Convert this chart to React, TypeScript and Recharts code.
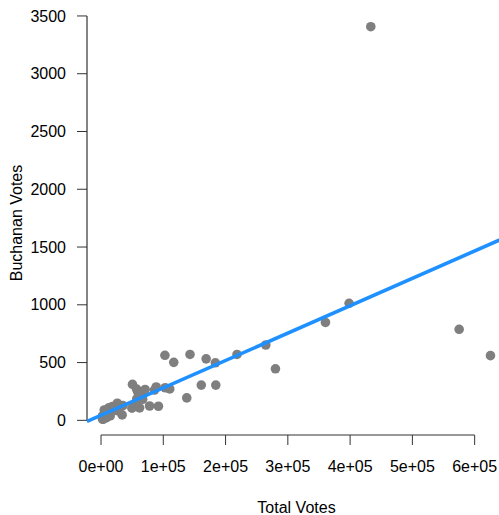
import React from "react";
import {
  ReferenceLine,
  Scatter,
  ScatterChart,
  XAxis,
  YAxis
} from "recharts";

// Florida 2000, one entry per county
const counties = [
  "Alachua", "Baker", "Bay", "Bradford", "Brevard", "Broward", "Calhoun", "Charlotte",
  "Citrus", "Clay", "Collier", "Columbia", "DeSoto", "Dixie", "Duval", "Escambia",
  "Flagler", "Franklin", "Gadsden", "Gilchrist", "Glades", "Gulf", "Hamilton", "Hardee",
  "Hendry", "Hernando", "Highlands", "Hillsborough", "Holmes", "Indian River", "Jackson",
  "Jefferson", "Lafayette", "Lake", "Lee", "Leon", "Levy", "Liberty", "Madison", "Manatee",
  "Marion", "Martin", "Miami-Dade", "Monroe", "Nassau", "Okaloosa", "Okeechobee", "Orange",
  "Osceola", "Palm Beach", "Pasco", "Pinellas", "Polk", "Putnam", "St. Johns", "St. Lucie",
  "Santa Rosa", "Sarasota", "Seminole", "Sumter", "Suwannee", "Taylor", "Union", "Volusia",
  "Wakulla", "Walton", "Washington"
];

const totalVotes = [
  85800, 8150, 58800, 8700, 218400, 575100, 5190, 66900,
  57200, 57400, 92200, 18450, 7800, 4640, 264600, 116800,
  27100, 4640, 14720, 5360, 3360, 6140, 3950, 6240,
  8140, 65300, 35200, 360400, 7400, 49700, 16330,
  5650, 2510, 88600, 184300, 103100, 12700, 2410, 6160, 110400,
  102600, 62000, 625400, 33900, 23800, 70800, 9850, 280100,
  55700, 433200, 142900, 398400, 168800, 26200, 60800, 78000,
  50500, 161000, 137700, 22300, 12450, 6820, 3830, 183600,
  8600, 18300, 8000
];

const buchananVotes = [
  262, 73, 248, 65, 570, 788, 90, 182,
  270, 186, 122, 89, 36, 29, 652, 502,
  83, 33, 38, 29, 9, 71, 24, 30,
  22, 242, 127, 847, 76, 105, 102,
  29, 10, 289, 305, 282, 67, 39, 29, 272,
  563, 108, 560, 47, 90, 267, 43, 446,
  145, 3407, 570, 1013, 532, 148, 229, 124,
  311, 305, 194, 114, 108, 27, 37, 498,
  46, 120, 88
];

const xTicks = [0, 100000, 200000, 300000, 400000, 500000, 600000];
const yTicks = [0, 500, 1000, 1500, 2000, 2500, 3000, 3500];

// least-squares line
const fitIntercept = 44;
const fitSlope = 0.00237;

// R-style 4% padding around the data range
const pad = (vals: number[]): [number, number] => {
  const lo = Math.min(...vals);
  const hi = Math.max(...vals);
  const d = (hi - lo) * 0.04;
  return [lo - d, hi + d];
};
const xDomain = pad(totalVotes);
const yDomain = pad(buchananVotes);

const points = counties.map((name, i) => ({
  county: name,
  total: totalVotes[i],
  buchanan: buchananVotes[i]
}));

const fitLine = xDomain.map((x) => ({ total: x, buchanan: fitIntercept + fitSlope * x }));

const sciFormat = (v: number) => {
  if (v === 0) return "0e+00";
  const exp = Math.floor(Math.log10(Math.abs(v)));
  const mant = Math.round(v / Math.pow(10, exp));
  return `${mant}e+${String(exp).padStart(2, "0")}`;
};

const FONT = "'Liberation Sans', Arial, Helvetica, sans-serif";
const INK = "#000000";

const Dot = (props: any) => (
  <circle cx={props.cx} cy={props.cy} r={4.8} fill="#7f7f7f" />
);

const NoDot = () => <g />;

export default function App() {
  return (
    <div
      style={{
        position: "absolute",
        left: 0,
        top: 0,
        width: 499,
        height: 515,
        overflow: "hidden",
        background: "#ffffff",
        fontFamily: FONT
      }}
    >
      <ScatterChart
        width={506}
        height={515}
        margin={{ top: 11, right: 0, bottom: 0, left: 0 }}
      >
        <XAxis
          type="number"
          dataKey="total"
          domain={xDomain}
          ticks={xTicks}
          tickFormatter={sciFormat}
          allowDataOverflow
          height={80}
          axisLine={false}
          tickLine={{ stroke: "#333333" }}
          tickSize={10}
          tickMargin={16}
          tick={{ fill: INK, fontSize: 16, fontFamily: FONT }}
          label={{
            content: (p: any) => (
              <text
                x={p.viewBox.x + p.viewBox.width / 2}
                y={p.viewBox.y + p.viewBox.height - 2}
                textAnchor="middle"
                fill={INK}
                fontSize={16}
                fontFamily={FONT}
              >
                Total Votes
              </text>
            )
          }}
        />
        <YAxis
          type="number"
          dataKey="buchanan"
          domain={yDomain}
          ticks={yTicks}
          allowDataOverflow
          width={87}
          axisLine={false}
          tickLine={{ stroke: "#333333" }}
          tickSize={10}
          tickMargin={11}
          tick={{ fill: INK, fontSize: 16, fontFamily: FONT }}
          label={{
            content: (p: any) => {
              const cy = p.viewBox.y + p.viewBox.height / 2;
              return (
                <text
                  x={22}
                  y={cy}
                  transform={`rotate(-90, 22, ${cy})`}
                  textAnchor="middle"
                  fill={INK}
                  fontSize={16}
                  fontFamily={FONT}
                >
                  Buchanan Votes
                </text>
              );
            }
          }}
        />
        <ReferenceLine
          segment={[
            { x: xDomain[0], y: yTicks[0] },
            { x: xDomain[0], y: yTicks[yTicks.length - 1] }
          ]}
          stroke="#333333"
          strokeWidth={1.2}
          ifOverflow="visible"
        />
        <ReferenceLine
          segment={[
            { x: xTicks[0], y: yDomain[0] },
            { x: xTicks[xTicks.length - 1], y: yDomain[0] }
          ]}
          stroke="#333333"
          strokeWidth={1.2}
          ifOverflow="visible"
        />
        <Scatter data={points} shape={Dot} isAnimationActive={false} />
        <Scatter
          data={fitLine}
          shape={NoDot}
          line={{ stroke: "#1e90ff", strokeWidth: 3.6 }}
          isAnimationActive={false}
        />
      </ScatterChart>
    </div>
  );
}
